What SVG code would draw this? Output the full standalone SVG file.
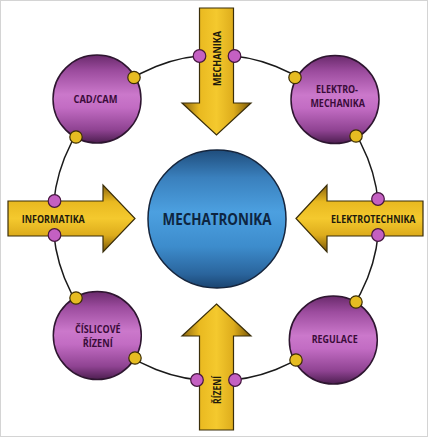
<svg xmlns="http://www.w3.org/2000/svg" width="428" height="437" viewBox="0 0 428 437">
<defs>
<linearGradient id="gPurple" x1="0" y1="0" x2="0" y2="1">
<stop offset="0" stop-color="#6a2a6c"/>
<stop offset="0.18" stop-color="#9c4c9e"/>
<stop offset="0.45" stop-color="#cb78cb"/>
<stop offset="0.6" stop-color="#c26cc3"/>
<stop offset="0.85" stop-color="#8f4392"/>
<stop offset="1" stop-color="#4d1e50"/>
</linearGradient>
<linearGradient id="gBlue" x1="0" y1="0" x2="0" y2="1">
<stop offset="0" stop-color="#1f4d7c"/>
<stop offset="0.2" stop-color="#3a80bd"/>
<stop offset="0.45" stop-color="#4ca0e0"/>
<stop offset="0.7" stop-color="#3d8ccc"/>
<stop offset="0.9" stop-color="#2a649c"/>
<stop offset="1" stop-color="#1a4470"/>
</linearGradient>
<linearGradient id="gGoldV" x1="0" y1="0" x2="1" y2="0">
<stop offset="0" stop-color="#8a6410"/>
<stop offset="0.25" stop-color="#e9b920"/>
<stop offset="0.5" stop-color="#f4c92e"/>
<stop offset="0.75" stop-color="#ddac1c"/>
<stop offset="1" stop-color="#7a5808"/>
</linearGradient>
<linearGradient id="gGoldH" x1="0" y1="0" x2="0" y2="1">
<stop offset="0" stop-color="#8a6410"/>
<stop offset="0.25" stop-color="#e9b920"/>
<stop offset="0.5" stop-color="#f4c92e"/>
<stop offset="0.75" stop-color="#ddac1c"/>
<stop offset="1" stop-color="#7a5808"/>
</linearGradient>
<style>
.ring{fill:none;stroke:#1a1a1a;stroke-width:1.5}
.pc{fill:url(#gPurple);stroke:#2e1630;stroke-width:1.5}
.cc{fill:url(#gBlue);stroke:#15253d;stroke-width:1.5}
.av{fill:url(#gGoldV);stroke:#3a2e0a;stroke-width:1.2;stroke-linejoin:miter}
.ah{fill:url(#gGoldH);stroke:#3a2e0a;stroke-width:1.2;stroke-linejoin:miter}
.yd{fill:#e6bc22;stroke:#3a2c05;stroke-width:1.2}
.md{fill:#c460c2;stroke:#45163f;stroke-width:1.2}
text{font-family:"Open Sans","Liberation Sans",sans-serif;font-weight:700;text-anchor:middle}
.tp{font-size:11px;fill:#3a0c3a}
.ta{font-size:11px;fill:#1e1a0c}
.tc{font-size:16px;fill:#0e2540}
</style>
</defs>
<rect x="0.5" y="0.5" width="427" height="436" fill="#ffffff" stroke="#d4d4d4" stroke-width="1"/>
<g id="connectors">
<circle class="ring" cx="216" cy="218" r="163"/>
</g>
<g id="cadcam">
<circle class="pc" cx="97" cy="99" r="44"/>
<text class="tp" x="95.5" y="103" textLength="44" lengthAdjust="spacingAndGlyphs">CAD/CAM</text>
</g>
<g id="elektromechanika">
<circle class="pc" cx="335" cy="99.5" r="44"/>
<text class="tp" x="337" y="93.2" textLength="42" lengthAdjust="spacingAndGlyphs">ELEKTRO-</text>
<text class="tp" x="337.7" y="107.2" textLength="54.5" lengthAdjust="spacingAndGlyphs">MECHANIKA</text>
</g>
<g id="cislicove-rizeni">
<circle class="pc" cx="97.3" cy="335.5" r="44"/>
<text class="tp" x="97.8" y="332.7" textLength="45.5" lengthAdjust="spacingAndGlyphs">ČÍSLICOVÉ</text>
<text class="tp" x="97.7" y="346.7" textLength="30" lengthAdjust="spacingAndGlyphs">ŘÍZENÍ</text>
</g>
<g id="regulace">
<circle class="pc" cx="333.3" cy="340" r="44"/>
<text class="tp" x="334.7" y="343.2" textLength="46" lengthAdjust="spacingAndGlyphs">REGULACE</text>
</g>
<g id="mechatronika">
<circle class="cc" cx="217" cy="219" r="69"/>
<text class="tc" x="217" y="225" textLength="109" lengthAdjust="spacingAndGlyphs">MECHATRONIKA</text>
</g>
<g id="mechanika">
<path class="av" d="M199.5,8 H233.5 V103 H251 L216.5,135 L182,103 H199.5 Z"/>
<text class="ta" transform="translate(217,58.5) rotate(-90)" x="0" y="3.9" textLength="55" lengthAdjust="spacingAndGlyphs">MECHANIKA</text>
</g>
<g id="rizeni">
<path class="av" d="M216.5,304 L251,336 H233.5 V430 H199.5 V336 H182 Z"/>
<text class="ta" transform="translate(217,390) rotate(-90)" x="0" y="3.9" textLength="28" lengthAdjust="spacingAndGlyphs">ŘÍZENÍ</text>
</g>
<g id="informatika">
<path class="ah" d="M8,201 H103 V185 L135,218.5 L103,252 V236 H8 Z"/>
<text class="ta" x="53.3" y="222.6" textLength="63" lengthAdjust="spacingAndGlyphs">INFORMATIKA</text>
</g>
<g id="elektrotechnika">
<path class="ah" d="M296,218.5 L327,185 V201 H423 V236 H327 V252 Z"/>
<text class="ta" x="373.3" y="223" textLength="84.5" lengthAdjust="spacingAndGlyphs">ELEKTROTECHNIKA</text>
</g>
<g id="dots">
<circle class="yd" cx="134" cy="77.5" r="6.2"/>
<circle class="yd" cx="76" cy="137" r="6.2"/>
<circle class="yd" cx="295" cy="77.5" r="6.2"/>
<circle class="yd" cx="356" cy="136" r="6.2"/>
<circle class="yd" cx="76" cy="298" r="6.2"/>
<circle class="yd" cx="135" cy="358" r="6.2"/>
<circle class="yd" cx="356" cy="302" r="6.2"/>
<circle class="yd" cx="296" cy="360" r="6.2"/>
<circle class="md" cx="199.5" cy="56" r="6.3"/>
<circle class="md" cx="234.5" cy="56" r="6.3"/>
<circle class="md" cx="54.5" cy="201" r="6.3"/>
<circle class="md" cx="54.5" cy="235" r="6.3"/>
<circle class="md" cx="378" cy="199" r="6.3"/>
<circle class="md" cx="378" cy="235" r="6.3"/>
<circle class="md" cx="197" cy="380" r="6.3"/>
<circle class="md" cx="235" cy="380" r="6.3"/>
</g>
</svg>
